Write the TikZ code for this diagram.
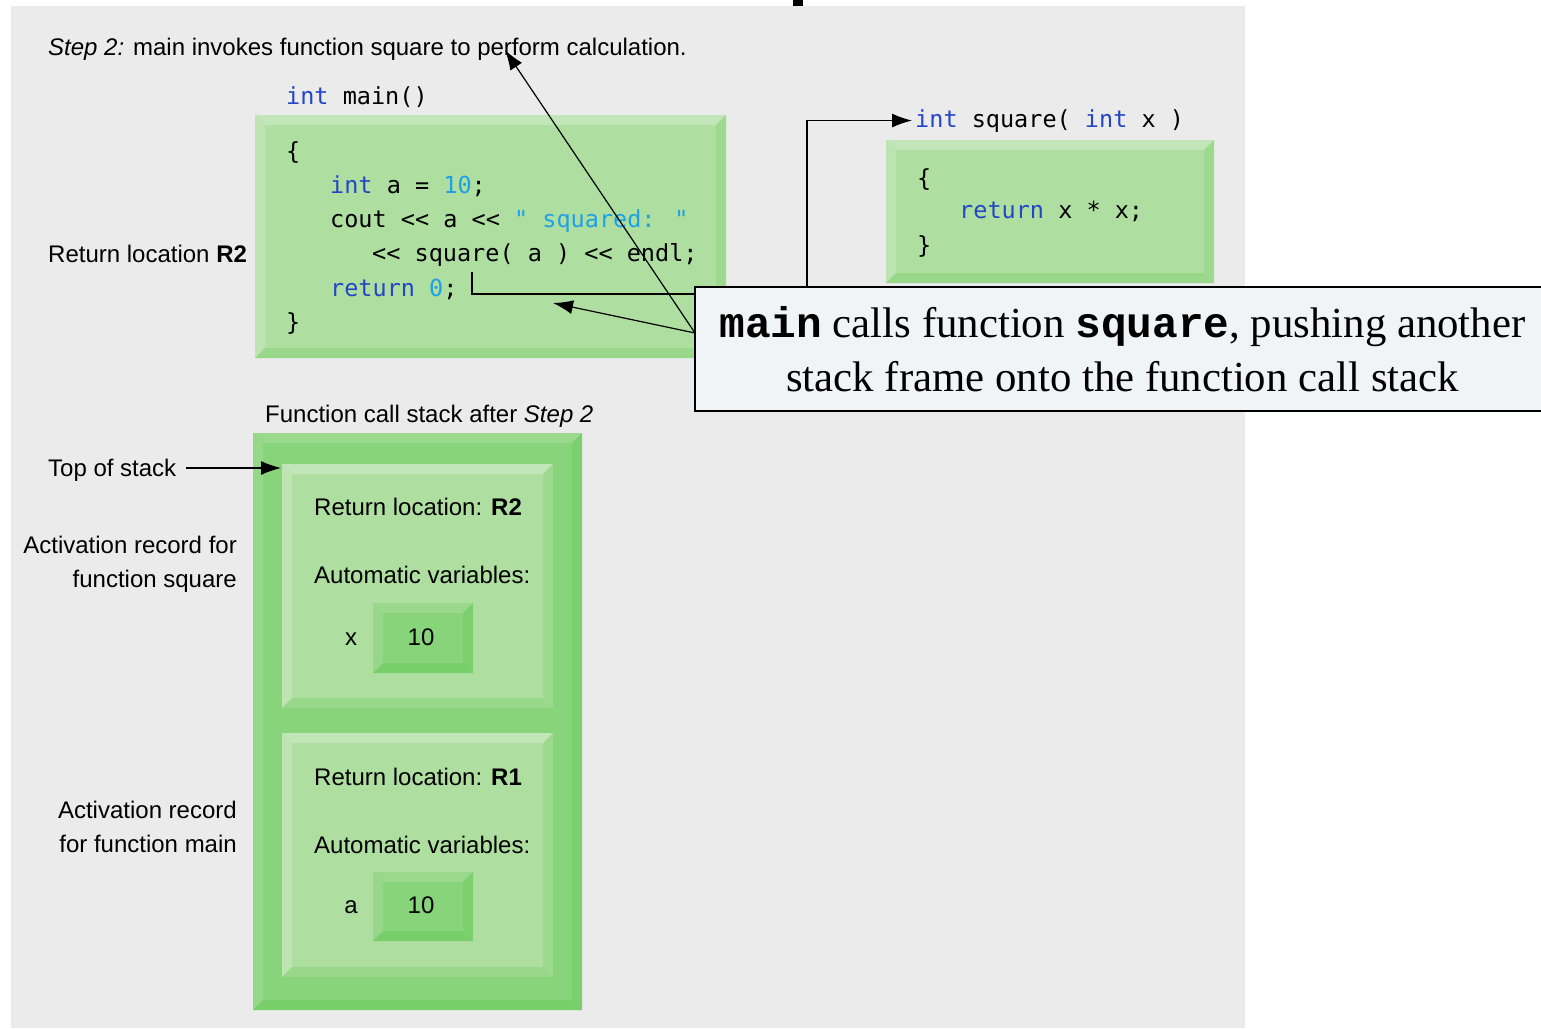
\documentclass[tikz,border=0pt]{standalone}
\usepackage{fontspec}
\setmainfont{Liberation Sans}
\newfontfamily\codefont{DejaVu Sans Mono}
\newfontfamily\notefont{Liberation Serif}
\newfontfamily\notemono{Liberation Mono}
\usepackage{xcolor}
\usetikzlibrary{arrows.meta}

\definecolor{panel}{HTML}{EAEBEA}
\definecolor{notebg}{HTML}{F0F4F7}
\definecolor{kwblue}{RGB}{35,70,200}
\definecolor{litblue}{RGB}{30,160,230}
% light boxes (code, frames)
\definecolor{paleT}{HTML}{C3E6B8}
\definecolor{paleL}{HTML}{BDE4B1}
\definecolor{paleM}{HTML}{AEDFA0}
\definecolor{paleR}{HTML}{9DD98F}
\definecolor{paleB}{HTML}{99D78B}
% dark boxes (stack, values)
\definecolor{deepT}{HTML}{9AD88D}
\definecolor{deepL}{HTML}{97D78A}
\definecolor{deepM}{HTML}{88D47B}
\definecolor{deepR}{HTML}{7BCF6D}
\definecolor{deepB}{HTML}{78CE6A}

\newcommand{\bevbox}[5]{%
  \fill[#1M] (#2,#3) rectangle (#4,#5);
  \fill[#1T] (#2,#3) -- (#4,#3) -- (#4-10,#3+10) -- (#2+10,#3+10) -- cycle;
  \fill[#1L] (#2,#3) -- (#2+10,#3+10) -- (#2+10,#5-10) -- (#2,#5) -- cycle;
  \fill[#1B] (#2,#5) -- (#4,#5) -- (#4-10,#5-10) -- (#2+10,#5-10) -- cycle;
  \fill[#1R] (#4,#3) -- (#4,#5) -- (#4-10,#5-10) -- (#4-10,#3+10) -- cycle;
}
\newcommand{\kw}[1]{\textcolor{kwblue}{#1}}
\newcommand{\lit}[1]{\textcolor{litblue}{#1}}

\begin{document}
\begin{tikzpicture}[x=1pt,y=-1pt,
  lbl/.style={font=\fontsize{24}{34}\selectfont, inner sep=0pt, anchor=base west},
  code/.style={font=\codefont\fontsize{23.5}{34}\selectfont, inner sep=0pt, anchor=base west},
  arr/.style={-{Latex[length=20pt,width=14pt]}, line width=1.2pt},
  note/.style={draw, line width=1.3pt, fill=notebg, minimum width=855pt, minimum height=124pt,
    align=center, font=\notefont\fontsize{42.8}{54}\selectfont}]

\useasboundingbox (0,0) rectangle (1541,1028);
\fill[white] (0,0) rectangle (1541,1028);
\fill[panel] (11,6) rectangle (1245,1028);
\fill[black] (793,0) rectangle (803,6);

\bevbox{pale}{255}{115}{726}{358}
\bevbox{pale}{886}{140}{1214}{283}
\bevbox{deep}{253}{433}{582}{1010}
\bevbox{pale}{282}{464}{553}{708}
\bevbox{pale}{282}{733}{553}{977}
\bevbox{deep}{373}{603}{473}{673}
\bevbox{deep}{373}{872}{473}{941}

\node [lbl] (step) at (48,55) {\textit{Step 2:} main invokes function square to perform calculation.};
\node [lbl] (ret) at (48,262) {Return location \textbf{R2}};

\node [code] (mainhead) at (286,104) {\kw{int} main()};
\node [code] (m1) at (286,159) {\{};
\node [code] (m2) at (330,193) {\kw{int} a = \lit{10};};
\node [code] (m3) at (330,227) {cout << a << \lit{" squared: "}};
\node [code] (m4) at (372,261) {<< square( a ) << endl;};
\node [code] (m5) at (330,296) {\kw{return} \lit{0};};
\node [code] (m6) at (286,330) {\}};

\node [code, inner sep=3pt] (sqhead) at (912,127) {\kw{int} square( \kw{int} x )};
\node [code] (s1) at (917,186) {\{};
\node [code] (s2) at (959,218) {\kw{return} x * x;};
\node [code] (s3) at (917,253) {\}};

\coordinate (r2) at (472,272);
\draw [arr] (r2) |- (807,294) |- (sqhead.west);

\node [note] (msg) at (1122.5,349) {{\notemono\bfseries main} calls function {\notemono\bfseries square}, pushing another\\stack frame onto the function call stack};
\coordinate (n1) at (695,333);
\coordinate (c1) at (505,50);
\coordinate (c2) at (553,303);
\draw [arr] (n1) -- (c1);
\draw [arr] (n1) -- (c2);

\node [lbl] (stack) at (265,422) {Function call stack after \textit{Step 2}};
\node [lbl] (tos) at (48,476) {Top of stack};
\coordinate (topf) at (281,468);
\draw [arr] ([xshift=10pt]tos.east |- topf) -- (topf);

\node [lbl, anchor=base east, align=right] (arsq) at (237,587) {Activation record for\\function square};
\node [lbl, anchor=base east, align=right] (armain) at (237,852) {Activation record\\for function main};

\node [lbl] (f1a) at (314,515) {Return location: \textbf{R2}};
\node [lbl] (f1b) at (314,583) {Automatic variables:};
\node [lbl, anchor=base] (f1x) at (351,645) {x};
\node [lbl, anchor=base] (f1v) at (421,645) {10};

\node [lbl] (f2a) at (314,785) {Return location: \textbf{R1}};
\node [lbl] (f2b) at (314,853) {Automatic variables:};
\node [lbl, anchor=base] (f2x) at (351,913) {a};
\node [lbl, anchor=base] (f2v) at (421,913) {10};
\end{tikzpicture}
\end{document}
